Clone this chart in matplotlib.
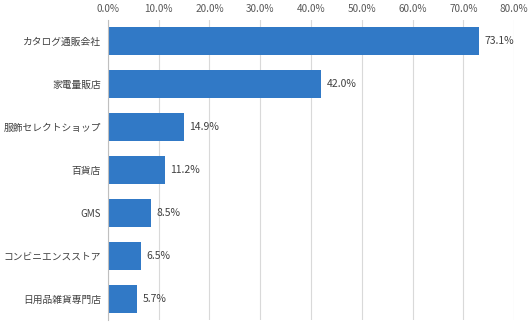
import matplotlib.pyplot as plt
from matplotlib.ticker import FuncFormatter

plt.rcParams['font.family'] = ['Noto Sans CJK JP', 'DejaVu Sans']

categories = ["カタログ通販会社", "家電量販店", "服飾セレクトショップ", "百貨店",
              "GMS", "コンビニエンスストア", "日用品雑貨専門店"]
values = [73.1, 42.0, 14.9, 11.2, 8.5, 6.5, 5.7]
ticks = [0, 10, 20, 30, 40, 50, 60, 70, 80]

fig = plt.figure(figsize=(5.29, 3.22), dpi=100)
ax = fig.add_axes([0.204, 0.005, 0.768, 0.934])

y = list(range(len(categories)))
ax.barh(y, values, height=0.65, color="#3179c6", zorder=3)
for yi, v in zip(y, values):
    ax.annotate(f"{v:.1f}%", (v, yi), xytext=(4, 0), textcoords="offset points",
                va="center", ha="left", fontsize=7.5, color="#404040")

ax.set_ylim(len(categories) - 0.5, -0.5)
ax.set_yticks(y)
ax.set_yticklabels(categories, fontsize=7, color="#404040")
ax.set_xlim(0, 80)
ax.set_xticks(ticks)
ax.xaxis.set_major_formatter(FuncFormatter(lambda x, p: f"{x:.1f}%"))
ax.xaxis.tick_top()
ax.tick_params(axis="x", labelsize=7.2, colors="#595959", length=0, pad=4)
ax.tick_params(axis="y", length=0, pad=5)
ax.grid(axis="x", color="#d9d9d9", linewidth=0.8, zorder=0)
for s in ["top", "right", "bottom"]:
    ax.spines[s].set_visible(False)
ax.spines["left"].set_color("#bfbfbf")
ax.spines["left"].set_linewidth(0.8)
ax.spines["left"].set_zorder(4)

fig.savefig("out.png", dpi=100)
